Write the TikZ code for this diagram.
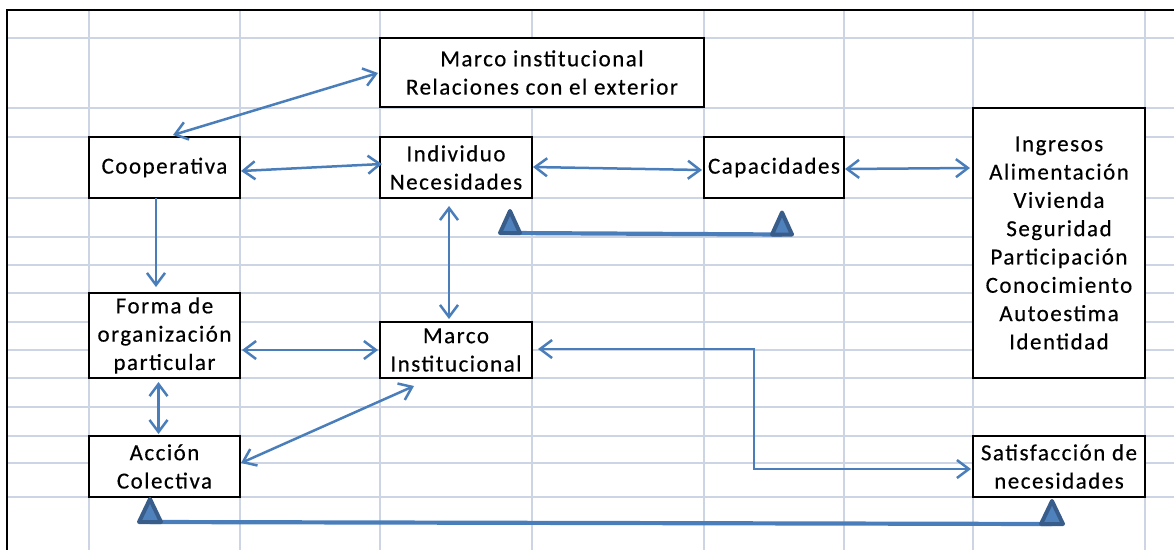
\documentclass[tikz,border=0pt]{standalone}
\usepackage{fontspec}
\setmainfont{Carlito}[LetterSpace=6.5,FakeBold=0.4]
\usetikzlibrary{arrows.meta,calc}
\definecolor{connblue}{HTML}{4A7EBB}
\definecolor{gridgrey}{HTML}{CDD5E5}
\definecolor{triedge}{HTML}{385D8A}
\definecolor{trifill}{HTML}{4F81BD}
\begin{document}
\begin{tikzpicture}[x=1pt,y=-1pt,
  box/.style={draw=black, line width=2.2pt, fill=white, inner sep=0pt, outer sep=0pt,
    align=center, font=\fontsize{23}{28.3}\selectfont},
  gridline/.style={draw=gridgrey, line width=1.6pt},
  frameline/.style={draw=black, line width=2.4pt},
  conn/.style={draw=connblue, line width=2.5pt},
  barb/.tip={Straight Barb[length=12pt,width=18pt,line width=2.5pt]},
  arr/.style={conn, barb-barb},
  arrone/.style={conn, -barb},
  thickline/.style={draw=connblue, line width=4.2pt},
  tri/.style={draw=triedge, fill=trifill, line width=4pt, line join=round}
]
\useasboundingbox (0,0) rectangle (1174,550);
% spreadsheet grid
\foreach \gx in {89,240,380,532,704,844,973,1145}
  \draw[gridline] (\gx,10) -- (\gx,550);
\foreach \gy in {38,108,137,198,237,265,293,322,350,378,407,436,463,497}
  \draw[gridline] (7,\gy) -- (1174,\gy);
% frame
\draw[frameline] (7,550) -- (7,10) -- (1174,10);

% boxes
\node[box, minimum width=324pt, minimum height=69pt] (mi) at (542,72.5)
  {Marco institucional\\Relaciones con el exterior};
\node[box, minimum width=151pt, minimum height=61pt] (coop) at (164.5,167.5) {Cooperativa};
\node[box, minimum width=152pt, minimum height=61pt] (ind) at (456,167.5) {Individuo\\Necesidades};
\node[box, minimum width=140pt, minimum height=61pt] (cap) at (774,167.5) {Capacidades};
\node[box, minimum width=172pt, minimum height=270pt] (list) at (1059,243)
  {Ingresos\\Alimentación\\Vivienda\\Seguridad\\Participación\\Conocimiento\\Autoestima\\Identidad};
\node[box, minimum width=151pt, minimum height=85pt] (forma) at (164.5,335.5)
  {Forma de\\organización\\particular};
\node[box, minimum width=152pt, minimum height=56pt] (minst) at (456,350) {Marco\\Institucional};
\node[box, minimum width=151pt, minimum height=61pt] (accion) at (164.5,466.5) {Acción\\Colectiva};
\node[box, minimum width=172pt, minimum height=61pt] (sat) at (1059,466.5)
  {Satisfacción de\\necesidades};

% connectors
\draw[arr] ($(coop.north)+(8.5,-2)$) -- ($(mi.west)+(-2,0.5)$);
\draw[arr] ($(coop.east)+(1,3.5)$) -- ($(ind.west)+(2,-3.5)$);
\draw[arr] ($(ind.east)+(1,-0.5)$) -- ($(cap.west)+(-2,2.5)$);
\draw[arr] ($(cap.east)+(1,1.5)$) -- ($(list.west|-cap.east)+(-3,0.5)$);
\draw[arrone] ($(coop.south)+(-8.5,0)$) -- ($(forma.north)+(-8.5,-6)$);
\draw[arr] ($(ind.south)+(-7,8)$) -- ($(minst.north)+(-7,-3)$);
\draw[arr] ($(forma.east|-minst.west)+(2,0)$) -- ($(minst.west)+(-2,0)$);
\draw[arr] ($(forma.south)+(-6,4)$) -- ($(accion.north)+(-6,-2)$);
\draw[arr] ($(accion.east)+(1,-3.5)$) -- ($(minst.south)+(-42,8)$);
\draw[arr] ($(minst.east)+(6,-1)$) -- ++(216,0) |- ($(sat.west)+(-2,2.5)$);

% thick lines with triangles
\coordinate (ta) at (510,233);
\coordinate (tb) at (782,234.5);
\coordinate (tc) at (150,522);
\coordinate (td) at (1052,524);
\draw[thickline] (ta) -- (tb);
\draw[thickline] (tc) -- (td);
\foreach \t in {ta,tb}
  \draw[tri] ($(\t)+(-10,0)$) -- ($(\t)+(0,-22)$) -- ($(\t)+(10,0)$) -- cycle;
\foreach \t in {tc,td}
  \draw[tri] ($(\t)+(-11,0)$) -- ($(\t)+(0,-23)$) -- ($(\t)+(11,0)$) -- cycle;
\end{tikzpicture}
\end{document}
